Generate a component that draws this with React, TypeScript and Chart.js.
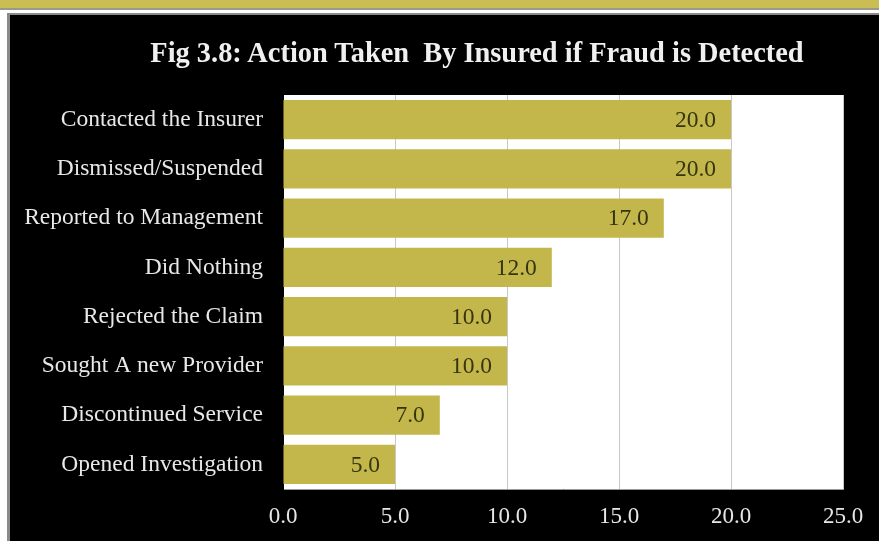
import React, { useEffect, useRef } from "react";
import { Chart, registerables } from "chart.js";

Chart.register(...registerables);

const categories = [
  "Contacted the Insurer",
  "Dismissed/Suspended",
  "Reported to Management",
  "Did Nothing",
  "Rejected the Claim",
  "Sought A new Provider",
  "Discontinued Service",
  "Opened Investigation",
];
const values = [20.0, 20.0, 17.0, 12.0, 10.0, 10.0, 7.0, 5.0];
const xTicks = [0, 5, 10, 15, 20, 25];
const title = "Fig 3.8: Action Taken  By Insured if Fraud is Detected";

const SERIF = "'Liberation Serif', 'DejaVu Serif', serif";

const plotBg = {
  id: "plotBg",
  beforeDraw(chart: any) {
    const { ctx, chartArea } = chart;
    ctx.save();
    ctx.fillStyle = "#ffffff";
    ctx.fillRect(chartArea.left, chartArea.top, chartArea.right - chartArea.left, chartArea.bottom - chartArea.top);
    ctx.restore();
  },
};

const valueLabels = {
  id: "valueLabels",
  afterDatasetsDraw(chart: any) {
    const { ctx } = chart;
    const meta = chart.getDatasetMeta(0);
    ctx.save();
    ctx.font = `23.5px ${SERIF}`;
    ctx.fillStyle = "#36350f";
    ctx.textAlign = "right";
    ctx.textBaseline = "middle";
    meta.data.forEach((bar: any, i: number) => {
      ctx.fillText(values[i].toFixed(1), bar.x - 15, bar.y + 1);
    });
    ctx.restore();
  },
};

export default function App() {
  const ref = useRef<HTMLCanvasElement>(null);
  useEffect(() => {
    if (!ref.current) return;
    const chart = new Chart(ref.current, {
      type: "bar",
      data: {
        labels: categories,
        datasets: [
          {
            data: values,
            backgroundColor: "#c3b74b",
            borderWidth: 0,
            barPercentage: 1,
            categoryPercentage: 0.8,
          },
        ],
      },
      options: {
        indexAxis: "y",
        animation: false,
        responsive: false,
        maintainAspectRatio: false,
        layout: { padding: { top: 95, right: 36, bottom: 0, left: 0 } },
        plugins: {
          legend: { display: false },
          tooltip: { enabled: false },
          title: { display: false },
        },
        scales: {
          x: {
            min: 0,
            max: 25,
            afterBuildTicks: (scale: any) => {
              scale.ticks = xTicks.map((v) => ({ value: v }));
            },
            afterFit: (scale: any) => {
              scale.height = 52;
            },
            grid: { color: "#c8c8c8", lineWidth: 1, drawTicks: false },
            border: { color: "#9a9a9a" },
            ticks: {
              color: "#e6e6e6",
              padding: 14,
              font: { family: SERIF, size: 23 },
              callback: (v: any) => Number(v).toFixed(1),
            },
          },
          y: {
            afterFit: (scale: any) => {
              scale.width = 283;
            },
            grid: { display: false, drawTicks: false },
            border: { color: "#000000" },
            ticks: {
              color: "#e8e8e8",
              padding: 20,
              font: { family: SERIF, size: 23.5 },
            },
          },
        },
      },
      plugins: [plotBg, valueLabels],
    });
    return () => chart.destroy();
  }, []);

  return (
    <div
      style={{
        position: "fixed",
        left: 0,
        top: 0,
        width: 879,
        height: 541,
        background: "#ffffff",
        overflow: "hidden",
      }}
    >
      <div style={{ position: "absolute", left: 0, top: 0, width: 879, height: 8, background: "#c9bd54" }} />
      <div style={{ position: "absolute", left: 0, top: 8, width: 879, height: 2, background: "#9a9a8a" }} />
      <div style={{ position: "absolute", left: 7, top: 13, width: 872, height: 528, background: "#8a8a8a" }} />
      <div style={{ position: "absolute", left: 10, top: 15, width: 869, height: 526, background: "#000000" }} />
      <canvas ref={ref} width={879} height={541} style={{ position: "absolute", left: 0, top: 0 }} />
      <div
        style={{
          position: "absolute",
          left: 0,
          top: 36,
          width: 954,
          textAlign: "center",
          color: "#f0f0f0",
          fontFamily: SERIF,
          fontWeight: "bold",
          fontSize: 28.4,
          lineHeight: "33px",
          whiteSpace: "pre",
        }}
      >
        {title}
      </div>
    </div>
  );
}
